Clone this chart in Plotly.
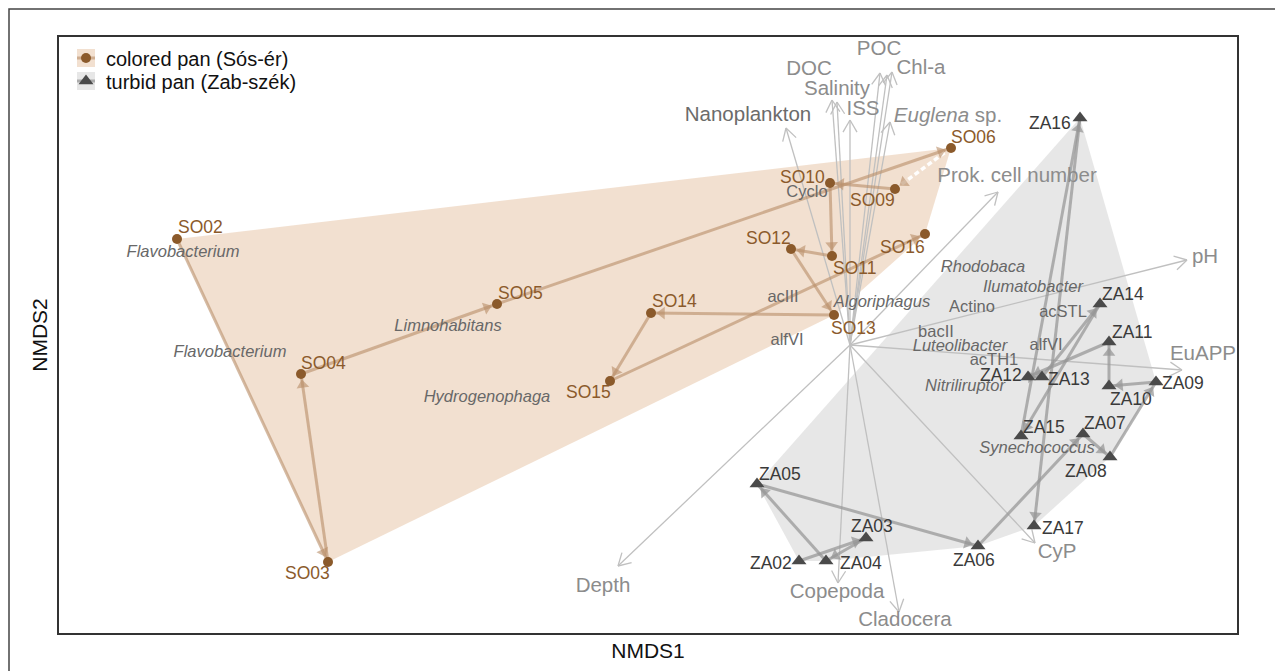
import math
import plotly.graph_objects as go

# ---- NMDS sample scores: colored pan (Sós-ér) ----
so_names = ["SO02", "SO03", "SO04", "SO05", "SO06", "SO09", "SO10",
            "SO11", "SO12", "SO13", "SO14", "SO15", "SO16"]
so_x = [-1.346, -1.044, -1.098, -0.706, 0.202, 0.090, -0.040,
        -0.036, -0.118, -0.032, -0.398, -0.480, 0.150]
so_y = [0.212, -0.434, -0.058, 0.082, 0.394, 0.312, 0.324,
        0.178, 0.192, 0.060, 0.064, -0.072, 0.222]
# segments that bridge missing sampling dates are dashed (SO06 -> SO09)
so_gap_after = ["SO06"]

# ---- NMDS sample scores: turbid pan (Zab-szék) ----
za_names = ["ZA02", "ZA03", "ZA04", "ZA05", "ZA06", "ZA07", "ZA08", "ZA09",
            "ZA10", "ZA11", "ZA12", "ZA13", "ZA14", "ZA15", "ZA16", "ZA17"]
za_x = [-0.102, 0.032, -0.048, -0.186, 0.256, 0.466, 0.520, 0.612,
        0.518, 0.518, 0.356, 0.384, 0.500, 0.342, 0.460, 0.368]
za_y = [-0.432, -0.386, -0.432, -0.278, -0.402, -0.178, -0.224, -0.074,
        -0.082, 0.006, -0.064, -0.064, 0.082, -0.182, 0.454, -0.362]

# ---- fitted environmental / plankton vectors (envfit) ----
env_names = ["Nanoplankton", "DOC", "Salinity", "ISS", "POC", "", "Chl-a",
             "<i>Euglena</i> sp.", "Prok. cell number", "pH", "EuAPP",
             "CyP", "Copepoda", "Cladocera", "Depth"]
env_x = [-0.128, -0.036, -0.026, 0.000, 0.060, 0.074, 0.084,
         0.080, 0.296, 0.674, 0.664, 0.370, -0.024, 0.098, -0.464]
env_y = [0.434, 0.490, 0.486, 0.450, 0.544, 0.540, 0.546,
         0.446, 0.306, 0.170, -0.050, -0.396, -0.476, -0.534, -0.442]
env_label_x = [-0.204, -0.082, -0.026, 0.026, 0.058, 0.0, 0.142,
               0.196, 0.334, 0.710, 0.706, 0.414, -0.026, 0.110, -0.494]
env_label_y = [0.458, 0.550, 0.510, 0.470, 0.590, 0.0, 0.552,
               0.456, 0.336, 0.174, -0.020, -0.416, -0.496, -0.552, -0.484]

# ---- bacterial taxa (species scores) ----
taxa_names = ["<i>Flavobacterium</i>", "<i>Flavobacterium</i>", "<i>Limnohabitans</i>",
              "<i>Hydrogenophaga</i>", "Cyclo", "acIII", "alfVI", "<i>Algoriphagus</i>",
              "<i>Rhodobaca</i>", "<i>Ilumatobacter</i>", "Actino", "acSTL", "bacII",
              "<i>Luteolibacter</i>", "alfVI", "acTH1", "<i>Nitriliruptor</i>",
              "<i>Synechococcus</i>"]
taxa_x = [-1.334, -1.240, -0.804, -0.726, -0.086, -0.134, -0.126, 0.064,
          0.266, 0.366, 0.244, 0.426, 0.172, 0.220, 0.392, 0.288, 0.230, 0.374]
taxa_y = [0.184, -0.016, 0.036, -0.106, 0.304, 0.094, 0.008, 0.084,
          0.154, 0.114, 0.074, 0.064, 0.024, -0.004, -0.002, -0.032, -0.084, -0.208]

# ---- label offsets for sample names (pixels, x right / y up) ----
so_label_shift = [(23, 12), (-21, -11), (22, 11), (23, 11), (22, 11), (-23, -11), (-28, 6),
                  (22, -12), (-23, 11), (19, -13), (23, 12), (-22, -11), (-23, -13)]
za_label_shift = [(-28, -2), (6, 12), (35, -2), (23, 10), (-4, -14), (22, 11), (-24, -14),
                  (27, -1), (22, -13), (23, 10), (-27, 2), (27, -2), (23, 10), (23, 9),
                  (-30, -5), (29, -2)]

# ---- figure geometry ----
W, H = 1275, 671
M_L, M_R, M_T, M_B = 59, 38, 37, 38
PW, PH = W - M_L - M_R, H - M_T - M_B
X_RANGE = [-1.582, 0.774]
Y_RANGE = [-0.576, 0.616]
PX = PW / (X_RANGE[1] - X_RANGE[0])  # pixels per NMDS unit (equal on both axes)

FONT = "Liberation Sans, Arial, sans-serif"
SO_DARK = "#8B5A2B"
SO_LINE = "rgba(186,144,106,0.62)"
SO_FILL = "rgba(240,218,200,0.85)"
ZA_DARK = "#4a4a4a"
ZA_LINE = "rgba(150,150,150,0.72)"
ZA_FILL = "rgba(228,228,228,0.9)"
VEC_COL = "#c0c0c0"


def convex_hull(xs, ys):
    pts = sorted(set(zip(xs, ys)))

    def cross(o, a, b):
        return (a[0] - o[0]) * (b[1] - o[1]) - (a[1] - o[1]) * (b[0] - o[0])

    lower, upper = [], []
    for p in pts:
        while len(lower) >= 2 and cross(lower[-2], lower[-1], p) <= 0:
            lower.pop()
        lower.append(p)
    for p in reversed(pts):
        while len(upper) >= 2 and cross(upper[-2], upper[-1], p) <= 0:
            upper.pop()
        upper.append(p)
    hull = lower[:-1] + upper[:-1]
    hull.append(hull[0])
    return [p[0] for p in hull], [p[1] for p in hull]


fig = go.Figure()

# hulls
for xs, ys, fill in [(so_x, so_y, SO_FILL), (za_x, za_y, ZA_FILL)]:
    hx, hy = convex_hull(xs, ys)
    fig.add_trace(go.Scatter(x=hx, y=hy, mode="lines", fill="toself", fillcolor=fill,
                             line=dict(width=0), hoverinfo="skip", showlegend=False))

# environmental vectors with open arrowheads
vx, vy = [], []
head_len = 14 / PX
for ex, ey in zip(env_x, env_y):
    vx += [0, ex, None]
    vy += [0, ey, None]
    ang = math.atan2(ey, ex)
    for s in (1, -1):
        a = ang + math.pi + s * math.radians(30)
        vx += [ex + head_len * math.cos(a), ex, None]
        vy += [ey + head_len * math.sin(a), ey, None]
fig.add_trace(go.Scatter(x=vx, y=vy, mode="lines", line=dict(color=VEC_COL, width=1.3),
                         hoverinfo="skip", showlegend=False))


def trajectory(names, xs, ys, line_col, dashed_after=()):
    solid_x, solid_y, dash_x, dash_y = [], [], [], []
    hx, hy, hang = [], [], []
    for i in range(len(xs) - 1):
        x0, y0, x1, y1 = xs[i], ys[i], xs[i + 1], ys[i + 1]
        if names[i] in dashed_after:
            dash_x += [x0, x1, None]
            dash_y += [y0, y1, None]
        else:
            solid_x += [x0, x1, None]
            solid_y += [y0, y1, None]
        d = math.hypot(x1 - x0, y1 - y0)
        back = 11 / PX
        hx.append(x1 - (x1 - x0) / d * back)
        hy.append(y1 - (y1 - y0) / d * back)
        hang.append(math.degrees(math.atan2(x1 - x0, y1 - y0)))
    fig.add_trace(go.Scatter(x=solid_x, y=solid_y, mode="lines",
                             line=dict(color=line_col, width=3),
                             hoverinfo="skip", showlegend=False))
    if dash_x:
        fig.add_trace(go.Scatter(x=dash_x, y=dash_y, mode="lines",
                                 line=dict(color="rgba(255,255,255,0.95)", width=3.5, dash="5px,3px"),
                                 hoverinfo="skip", showlegend=False))
    fig.add_trace(go.Scatter(x=hx, y=hy, mode="markers",
                             marker=dict(symbol="triangle-up", size=11, angle=hang,
                                         color=line_col, line=dict(width=0)),
                             hoverinfo="skip", showlegend=False))


trajectory(so_names, so_x, so_y, SO_LINE, so_gap_after)
trajectory(za_names, za_x, za_y, ZA_LINE)

# sample points
fig.add_trace(go.Scatter(x=so_x, y=so_y, mode="markers", text=so_names,
                         marker=dict(symbol="circle", size=10, color=SO_DARK),
                         showlegend=False))
fig.add_trace(go.Scatter(x=za_x, y=za_y, mode="markers", text=za_names,
                         marker=dict(symbol="triangle-up", size=13, color=ZA_DARK),
                         showlegend=False))

# legend entries (symbol only; key background and line are drawn as shapes below)
fig.add_trace(go.Scatter(x=[None], y=[None], mode="markers", name="colored pan (Sós-ér)",
                         legend="legend",
                         marker=dict(symbol="circle", size=10, color=SO_DARK)))
fig.add_trace(go.Scatter(x=[None], y=[None], mode="markers", name="turbid pan (Zab-szék)",
                         legend="legend2",
                         marker=dict(symbol="triangle-up", size=13, color=ZA_DARK)))

# vector labels
env_cols = ["#6b6b6b" if n == "Nanoplankton" else "#8c8c8c" for n in env_names]
fig.add_trace(go.Scatter(x=env_label_x, y=env_label_y, mode="text", text=env_names,
                         textfont=dict(family=FONT, size=20.5, color=env_cols),
                         cliponaxis=False, hoverinfo="skip", showlegend=False))

# taxa labels
fig.add_trace(go.Scatter(x=taxa_x, y=taxa_y, mode="text", text=taxa_names,
                         textfont=dict(family=FONT, size=16.5, color="#686868"),
                         cliponaxis=False, hoverinfo="skip", showlegend=False))

# sample labels
annotations = []
for names, xs, ys, shifts, col in [(so_names, so_x, so_y, so_label_shift, SO_DARK),
                                   (za_names, za_x, za_y, za_label_shift, "#3a3a3a")]:
    for n, x, y, (dx, dy) in zip(names, xs, ys, shifts):
        annotations.append(dict(x=x, y=y, text=n, showarrow=False, xshift=dx, yshift=dy,
                                font=dict(family=FONT, size=17.5, color=col)))

axis_common = dict(showgrid=False, zeroline=False, showticklabels=False, ticks="",
                   showline=True, mirror=True, linecolor="#333333", linewidth=1.5)


def px_x(p):
    return (p - M_L) / PW


def px_y(p):
    return (H - M_B - p) / PH


# legend rows (pixel centres)
LEG_ROWS = [58, 81]

# legend key backgrounds with a short line through them
shapes = []
for cy, fill, line_col in [(LEG_ROWS[0], SO_FILL, SO_LINE), (LEG_ROWS[1], ZA_FILL, ZA_LINE)]:
    shapes.append(dict(type="rect", xref="paper", yref="paper", layer="above",
                       x0=px_x(77), x1=px_x(95), y0=px_y(cy + 9), y1=px_y(cy - 9),
                       fillcolor=fill, line=dict(width=0)))
    shapes.append(dict(type="line", xref="paper", yref="paper", layer="above",
                       x0=px_x(77), x1=px_x(95), y0=px_y(cy), y1=px_y(cy),
                       line=dict(color=line_col, width=3)))
# outer figure frame
shapes.append(dict(type="rect", xref="paper", yref="paper",
                   x0=-(M_L - 9) / PW, x1=2.0, y0=-2.0, y1=1 + (M_T - 9) / PH,
                   line=dict(color="#444444", width=1.5), fillcolor="rgba(0,0,0,0)",
                   layer="below"))

legend_common = dict(xanchor="left", yanchor="middle", bgcolor="rgba(0,0,0,0)",
                     font=dict(size=20, color="#111111"), itemwidth=30, tracegroupgap=0)

fig.update_layout(
    width=W, height=H,
    margin=dict(l=M_L, r=M_R, t=M_T, b=M_B),
    paper_bgcolor="white", plot_bgcolor="white",
    font=dict(family=FONT, color="#222222"),
    xaxis=dict(range=X_RANGE, title=dict(text="NMDS1", font=dict(size=21, color="#111111"),
                                         standoff=10), **axis_common),
    yaxis=dict(range=Y_RANGE, title=dict(text="NMDS2", font=dict(size=21, color="#111111"),
                                         standoff=4), **axis_common),
    legend=dict(x=px_x(66), y=px_y(LEG_ROWS[0]), **legend_common),
    legend2=dict(x=px_x(66), y=px_y(LEG_ROWS[1]), **legend_common),
    annotations=annotations,
    shapes=shapes,
    showlegend=True,
)

fig.write_html("out.html")
